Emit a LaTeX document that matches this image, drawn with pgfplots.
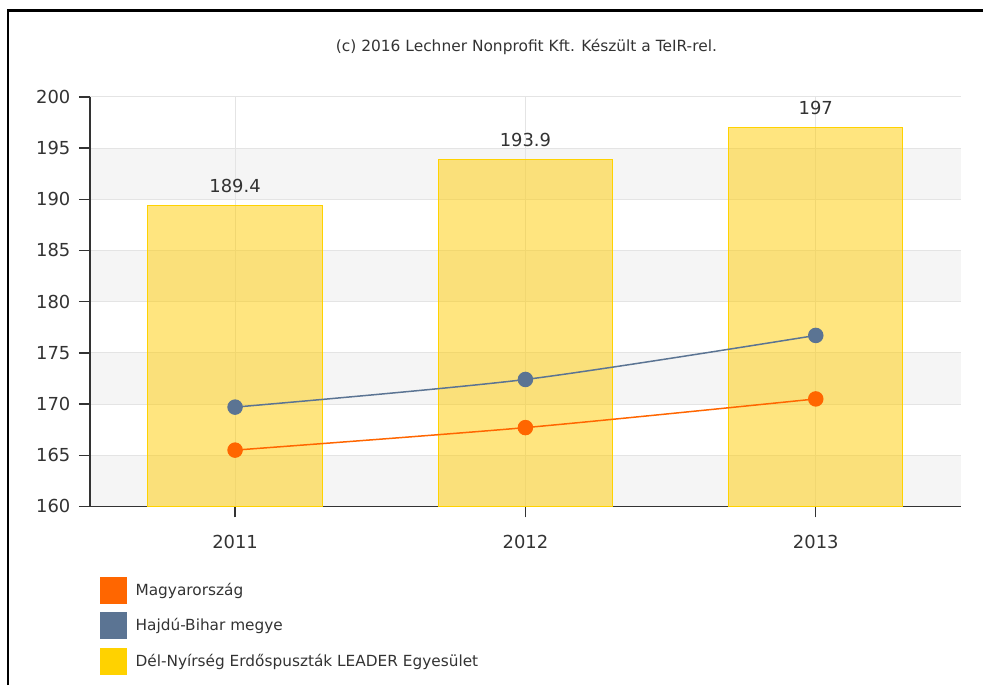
\documentclass[border=0pt]{standalone}
\usepackage{fontspec}
\setmainfont{DejaVu Sans}
\usepackage{pgfplots}
\pgfplotsset{compat=1.18}
\definecolor{orng}{HTML}{FF6600}
\definecolor{bluegr}{HTML}{5B7493}
\definecolor{yel}{HTML}{FFD200}
\definecolor{yelfill}{HTML}{FFCC00}
\definecolor{band}{HTML}{F5F5F5}
\definecolor{gridc}{HTML}{E4E4E4}
\definecolor{txt}{HTML}{333333}
\begin{document}
\begin{tikzpicture}
\path (0bp,0bp) rectangle (984bp,686bp);
\draw[line width=2.2bp, black] (8bp,0bp) -- (8bp,675.5bp) -- (984bp,675.5bp);
\node[font=\fontsize{15.5}{18}\selectfont, text=txt] at (527bp,639bp) {(c) 2016 Lechner Nonprofit Kft. Készült a TeIR-rel.};
\begin{axis}[
  set layers,
  at={(90bp,179bp)}, anchor=south west,
  width=872bp, height=410bp, scale only axis,
  xmin=-0.5, xmax=2.5, ymin=160, ymax=200,
  xtick={0,1,2}, xticklabels={2011,2012,2013},
  ytick={160,165,...,200},
  axis x line*=bottom, axis y line*=left,
  axis line style={txt, line width=1.6bp},
  tick style={txt, line width=1.4bp},
  tick align=outside, major tick length=11bp,
  grid=major, major grid style={gridc, line width=0.8bp},
  ticklabel style={font=\fontsize{18}{21}\selectfont, text=txt},
  xticklabel style={yshift=-14bp},
  yticklabel style={xshift=-5bp},
  /pgf/number format/assume math mode=true,
  legend image code/.code={\fill[#1, draw=white, line width=0.6bp] (0bp,-14bp) rectangle (28bp,14bp);},
  legend style={at={(0.0103,-0.1683)}, anchor=north west, draw=none, fill=none,
    inner xsep=0pt, inner ysep=0pt, row sep=7bp,
    font=\fontsize{15.4}{18}\selectfont, text=txt,
    /tikz/every odd column/.append style={column sep=6bp}},
  legend cell align=left,
]
\addplot[forget plot, on layer=axis background, fill=band, draw=none] coordinates {(-0.5,160) (2.5,160) (2.5,165) (-0.5,165) (-0.5,160)};
\addplot[forget plot, on layer=axis background, fill=band, draw=none] coordinates {(-0.5,170) (2.5,170) (2.5,175) (-0.5,175) (-0.5,170)};
\addplot[forget plot, on layer=axis background, fill=band, draw=none] coordinates {(-0.5,180) (2.5,180) (2.5,185) (-0.5,185) (-0.5,180)};
\addplot[forget plot, on layer=axis background, fill=band, draw=none] coordinates {(-0.5,190) (2.5,190) (2.5,195) (-0.5,195) (-0.5,190)};
\addplot[forget plot, ybar, bar width=0.6, fill=yelfill, fill opacity=0.5, draw=yel, line width=1bp,
  nodes near coords, point meta=y,
  nodes near coords style={font=\fontsize{18}{21}\selectfont, text=txt, text opacity=1, fill opacity=1, yshift=9bp,
    /pgf/number format/.cd, fixed, precision=1}]
  coordinates {(0,189.4) (1,193.9) (2,197)};
\addplot[forget plot, bluegr, line width=1.5bp, smooth, tension=0.45, mark=*, mark size=7bp, mark options={solid, fill=bluegr, draw=none}]
  coordinates {(0,169.7) (1,172.4) (2,176.7)};
\addplot[forget plot, orng, line width=1.5bp, smooth, tension=0.45, mark=*, mark size=7bp, mark options={solid, fill=orng, draw=none}]
  coordinates {(0,165.5) (1,167.7) (2,170.5)};
\addlegendimage{fill=orng}
\addlegendentry{Magyarország}
\addlegendimage{fill=bluegr}
\addlegendentry{Hajdú-Bihar megye}
\addlegendimage{fill=yel}
\addlegendentry{Dél-Nyírség Erdőspuszták LEADER Egyesület}
\end{axis}
\end{tikzpicture}
\end{document}
